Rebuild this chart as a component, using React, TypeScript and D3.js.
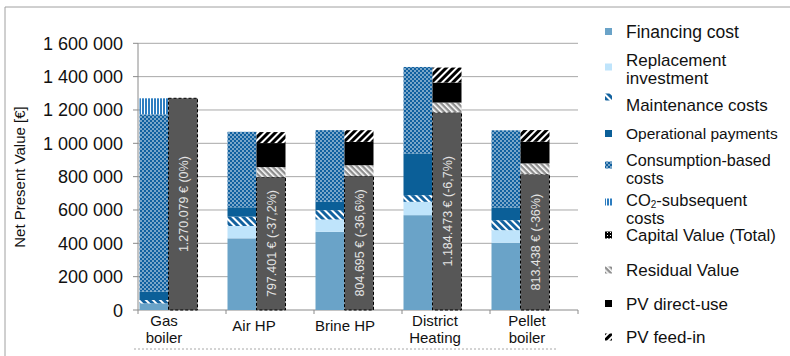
import React from "react";
import * as d3 from "d3";

// ---------- data ----------
const categories = ["Gas\nboiler", "Air HP", "Brine HP", "District\nHeating", "Pellet\nboiler"];
const financing = [40000, 430000, 469000, 569000, 403000];
const replacement = [0, 74000, 74000, 80000, 76000];
const maintenance = [20000, 56000, 56000, 40000, 60000];
const operational = [50000, 56000, 50000, 250000, 76000];
const consumption = [1064000, 453000, 430000, 519000, 463000];
const co2 = [96000, 0, 0, 0, 0];
const capitalValue = [1270079, 797401, 804695, 1184473, 813438];
const residualValue = [0, 60000, 64000, 60000, 66000];
const pvDirect = [0, 144000, 140000, 120000, 130000];
const pvFeedIn = [0, 66000, 70000, 90000, 70000];
const yTicks = [0, 200000, 400000, 600000, 800000, 1000000, 1200000, 1400000, 1600000];

const costKeys = ["financing", "replacement", "maintenance", "operational", "consumption", "co2"];
const valueKeys = ["capital", "residual", "pvDirect", "pvFeedIn"];

const legendItems = [
  { key: "financing", lines: ["Financing cost"] },
  { key: "replacement", lines: ["Replacement", "investment"] },
  { key: "maintenance", lines: ["Maintenance costs"] },
  { key: "operational", lines: ["Operational payments"] },
  { key: "consumption", lines: ["Consumption-based", "costs"] },
  { key: "co2", lines: ["CO2-subsequent", "costs"] },
  { key: "capitalLegend", lines: ["Capital Value (Total)"] },
  { key: "residual", lines: ["Residual Value"] },
  { key: "pvDirect", lines: ["PV direct-use"] },
  { key: "pvFeedIn", lines: ["PV feed-in"] },
];

const fills: Record<string, string> = {
  financing: "#6aa3c8",
  replacement: "#bfe4fb",
  maintenance: "url(#pMaint)",
  operational: "#0b5f98",
  consumption: "url(#pCons)",
  co2: "url(#pCo2)",
  capital: "#575757",
  capitalLegend: "url(#pCap)",
  residual: "url(#pRes)",
  pvDirect: "#000000",
  pvFeedIn: "url(#pFeed)",
};

const FONT = "'Liberation Sans', Arial, Helvetica, sans-serif";

export default function App() {
  const rows = categories.map((c, i) => ({
    cat: c,
    financing: financing[i],
    replacement: replacement[i],
    maintenance: maintenance[i],
    operational: operational[i],
    consumption: consumption[i],
    co2: co2[i],
    capital: capitalValue[i],
    residual: residualValue[i],
    pvDirect: pvDirect[i],
    pvFeedIn: pvFeedIn[i],
  }));

  const x = d3.scaleBand<string>().domain(categories).range([138, 578]).padding(0);
  const sub = d3.scaleBand<string>().domain(["cost", "value"]).range([1.5, 59.5]).padding(0);
  const y = d3.scaleLinear().domain([0, 1600000]).range([310, 43.3]);

  const costStack = d3.stack<any>().keys(costKeys)(rows);
  const valueStack = d3.stack<any>().keys(valueKeys)(rows);

  const fmtNum = (v: number) => d3.format(",")(v).replace(/,/g, ".");
  const fmtPct = (v: number) => {
    const p = Math.round((v / capitalValue[0] - 1) * 1000) / 10;
    return (p === 0 ? "0" : String(p)).replace(".", ",") + "%";
  };
  const fmtTick = (v: number) => d3.format(",")(v).replace(/,/g, " ");

  // legend layout (pixel positions)
  const legendMarkerY = [31.5, 67, 97, 133.5, 165, 202, 235, 270, 303.5, 337];
  const legendTextY = [[37.5], [65.5, 84], [110.5], [139], [165.5, 184], [205.5, 224], [241], [276], [309.5], [342.5]];
  const legendSize = [17.5, 17, 17, 15.5, 16.2, 16.5, 16.8, 17, 17, 17];
  const labelShift = [-4, -2, 1, 3, 7];

  return (
    <svg width={790} height={356} style={{ position: "absolute", left: 0, top: 0, background: "#fff" }} fontFamily={FONT}>
      <defs>
        <pattern id="pMaint" width={5} height={5} patternUnits="userSpaceOnUse" patternTransform="rotate(-45)">
          <rect width={5} height={5} fill="#12619e" />
          <rect width={2} height={5} fill="#ffffff" />
        </pattern>
        <pattern id="pCons" width={4} height={4} patternUnits="userSpaceOnUse">
          <rect width={4} height={4} fill="#10609f" />
          <circle cx={1} cy={1} r={0.8} fill="#ffffff" />
          <circle cx={3} cy={3} r={0.8} fill="#ffffff" />
        </pattern>
        <pattern id="pCo2" width={3} height={3} patternUnits="userSpaceOnUse">
          <rect width={3} height={3} fill="#2d7dc0" />
          <rect width={1} height={3} fill="#ffffff" />
        </pattern>
        <pattern id="pRes" width={4} height={4} patternUnits="userSpaceOnUse" patternTransform="rotate(-45)">
          <rect width={4} height={4} fill="#8e8e8e" />
          <rect width={1.6} height={4} fill="#ffffff" />
        </pattern>
        <pattern id="pFeed" width={5} height={5} patternUnits="userSpaceOnUse" patternTransform="rotate(45)">
          <rect width={5} height={5} fill="#000000" />
          <rect width={2} height={5} fill="#ffffff" />
        </pattern>
        <pattern id="pCap" width={3} height={3} patternUnits="userSpaceOnUse">
          <rect width={3} height={3} fill="#000000" />
          <rect x={1} y={1} width={1} height={1} fill="#ffffff" />
        </pattern>
      </defs>

      {/* outer chart border */}
      <line x1={5} x2={790} y1={7} y2={7} stroke="#a0a0a0" />
      <line x1={5} x2={5} y1={7} y2={356} stroke="#a0a0a0" />

      {/* gridlines */}
      {yTicks.map((t) => (
        <line key={"g" + t} x1={138} x2={578} y1={y(t)} y2={y(t)} stroke={t === 0 ? "#8a8a8a" : "#a8a8a8"} strokeWidth={1} />
      ))}
      {/* y axis */}
      <line x1={138} x2={138} y1={y(1600000)} y2={y(0)} stroke="#8a8a8a" />
      {yTicks.map((t) => (
        <g key={"t" + t}>
          <line x1={133} x2={138} y1={y(t)} y2={y(t)} stroke="#8a8a8a" />
          <text x={123} y={y(t) + 6.5} textAnchor="end" fontSize={18} fill="#111">
            {fmtTick(t)}
          </text>
        </g>
      ))}
      {/* x axis ticks */}
      {categories.map((c) => (
        <line key={"xt" + c} x1={x(c)!} x2={x(c)!} y1={310} y2={314} stroke="#8a8a8a" />
      ))}
      <line x1={578} x2={578} y1={310} y2={314} stroke="#8a8a8a" />

      {/* y axis title */}
      <text transform={`translate(25,177) rotate(-90)`} textAnchor="middle" fontSize={15} fill="#111">
        Net Present Value [€]
      </text>

      {/* cost stacks */}
      {costStack.map((layer) =>
        layer.map((d, i) => {
          const h = y(d[0]) - y(d[1]);
          if (h <= 0) return null;
          return (
            <rect
              key={layer.key + i}
              x={x(categories[i])! + sub("cost")!}
              y={y(d[1])}
              width={sub.bandwidth()}
              height={h}
              fill={fills[layer.key]}
            />
          );
        })
      )}

      {/* value stacks */}
      {valueStack.map((layer) =>
        layer.map((d, i) => {
          const h = y(d[0]) - y(d[1]);
          if (h <= 0) return null;
          return (
            <rect
              key={layer.key + i}
              x={x(categories[i])! + sub("value")!}
              y={y(d[1])}
              width={sub.bandwidth()}
              height={h}
              fill={fills[layer.key]}
              stroke={layer.key === "capital" ? "#000" : "none"}
              strokeDasharray={layer.key === "capital" ? "3,2" : undefined}
              strokeWidth={1}
            />
          );
        })
      )}

      {/* capital labels */}
      {rows.map((r, i) => {
        const cx = x(categories[i])! + sub("value")! + sub.bandwidth() / 2;
        const cy = (y(0) + y(r.capital)) / 2;
        return (
          <text
            key={"lbl" + i}
            transform={`translate(${cx + 4.5},${cy}) rotate(-90)`}
            textAnchor="middle"
            fontSize={12.5}
            fill="#e4e4e4"
          >
            {`${fmtNum(r.capital)} € (${fmtPct(r.capital)})`}
          </text>
        );
      })}

      {/* category labels */}
      {categories.map((c, i) => {
        const lines = c.split("\n");
        const cx = x(c)! + 30 + labelShift[i];
        return (
          <text key={"cl" + c} textAnchor="middle" fontSize={15} fill="#111">
            {lines.map((ln, j) => (
              <tspan key={j} x={cx} y={lines.length === 1 ? 330.5 : 326 + j * 17}>
                {ln}
              </tspan>
            ))}
          </text>
        );
      })}
      <line x1={134} x2={556} y1={349} y2={349} stroke="#a8a8a8" strokeDasharray="2,2" />

      {/* legend */}
      {legendItems.map((it, i) => (
        <g key={"lg" + it.key}>
          <rect x={605} y={legendMarkerY[i] - 3.5} width={7} height={7} fill={fills[it.key]} />
          {it.lines.map((ln, j) => (
            <text key={j} x={626} y={legendTextY[i][j]} fontSize={legendSize[i]} fill="#111">
              {ln.startsWith("CO2") ? (
                <>
                  CO
                  <tspan fontSize={10} dy={2}>2</tspan>
                  <tspan dy={-2}>{ln.slice(3)}</tspan>
                </>
              ) : (
                ln
              )}
            </text>
          ))}
        </g>
      ))}
    </svg>
  );
}
